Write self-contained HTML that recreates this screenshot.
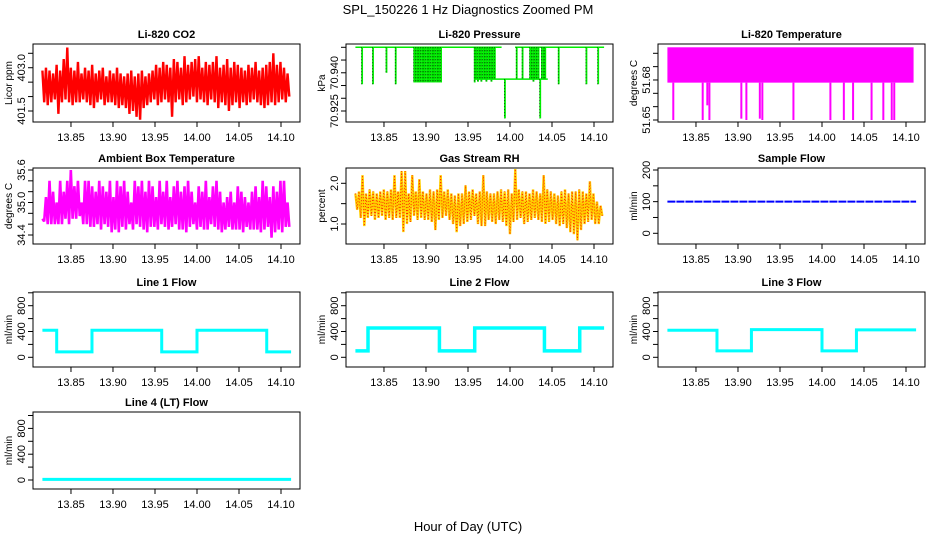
<!DOCTYPE html>
<html><head><meta charset="utf-8">
<style>
html,body{margin:0;padding:0;background:#fff;}
svg{display:block;font-family:"Liberation Sans",Arial,sans-serif;}
</style></head>
<body>
<svg id="chart" width="936" height="540" viewBox="0 0 936 540" xmlns="http://www.w3.org/2000/svg">
<text x="468" y="14" font-size="13" text-anchor="middle">SPL_150226  1 Hz Diagnostics Zoomed PM</text>
<text x="468" y="531" font-size="13" text-anchor="middle">Hour of Day (UTC)</text>
</svg>
<script>
// ---- data ----
const xTicks = [13.85, 13.90, 13.95, 14.00, 14.05, 14.10];
const binStart = 13.816;
const binEnd = 14.112;

const co2Hi = [402.9,403.0,402.9,402.8,403.1,402.9,403.3,403.7,403.0,402.9,403.2,402.8,403.0,402.9,403.1,402.8,402.9,403.0,402.7,402.9,402.8,403.0,402.8,402.7,402.8,402.9,402.7,402.8,402.9,402.7,402.8,402.9,403.1,403.0,403.2,403.1,403.0,403.3,403.2,403.0,403.4,403.1,403.2,403.3,403.4,403.0,403.2,403.1,403.2,403.4,403.0,403.1,403.3,403.0,403.2,403.1,403.0,402.9,403.1,403.0,403.2,402.9,403.0,403.1,403.2,403.5,403.1,403.2,403.0,402.8];
const co2Lo = [401.8,401.7,401.8,401.9,401.4,401.8,401.9,401.8,401.7,401.8,401.8,401.9,401.8,401.7,401.6,401.8,401.9,401.7,401.8,401.8,401.7,401.6,401.7,401.6,401.4,401.5,401.3,401.2,401.6,401.7,401.8,401.9,401.7,401.8,401.9,401.8,401.3,401.8,401.9,401.7,401.8,401.9,402.0,401.8,401.9,401.8,401.7,401.9,401.8,401.6,401.8,401.7,401.5,401.7,401.8,401.6,401.8,401.7,401.8,401.9,401.8,401.7,401.6,401.7,401.8,401.7,401.8,401.9,401.8,402.0];

const pressTop = 70.950;
const pressMid = 70.9375;
const pT  = [13.824,13.837,13.853,13.864,13.886,13.888,13.890,13.892,13.894,13.896,13.898,13.900,13.902,13.904,13.906,13.908,13.910,13.912,13.914,13.916,13.918,13.958,13.960,13.962,13.964,13.966,13.968,13.970,13.972,13.974,13.976,13.978,13.980,13.982,13.994,14.008,14.015,14.024,14.026,14.028,14.030,14.032,14.034,14.036,14.038,14.040,14.042,14.058,14.091,14.105];
const pHi = [70.950,70.950,70.950,70.950,70.950,70.950,70.950,70.950,70.950,70.950,70.950,70.950,70.950,70.950,70.950,70.950,70.950,70.950,70.950,70.950,70.950,70.950,70.950,70.950,70.950,70.950,70.950,70.950,70.950,70.950,70.950,70.950,70.950,70.950,70.9375,70.950,70.950,70.950,70.950,70.950,70.950,70.950,70.950,70.9375,70.950,70.950,70.950,70.950,70.950,70.950];
const pLo = [70.9355,70.9355,70.940,70.9355,70.9362,70.9362,70.9362,70.9362,70.9362,70.9362,70.9362,70.9362,70.9362,70.9362,70.9362,70.9362,70.9362,70.9362,70.9362,70.9362,70.9362,70.9362,70.9375,70.9365,70.9375,70.9365,70.9375,70.9375,70.9365,70.9375,70.9375,70.9365,70.9375,70.9375,70.9221,70.9375,70.9375,70.9375,70.9375,70.9365,70.9375,70.9375,70.9375,70.9221,70.9375,70.9375,70.9375,70.9355,70.9355,70.9355];

const tempHigh = 51.7045;
const tempBase = 51.678;
const tempDipT  = [13.823,13.858,13.8635,13.866,13.904,13.910,13.926,13.929,13.966,14.010,14.026,14.037,14.059,14.073,14.083,14.086];
const tempDipLo = [51.650,51.650,51.661,51.650,51.651,51.650,51.651,51.650,51.650,51.650,51.650,51.650,51.650,51.650,51.650,51.650];

const ambHi = [34.7,35.1,35.4,35.2,35.0,35.4,35.2,35.4,35.6,35.3,35.4,35.0,35.4,35.4,35.3,35.2,35.4,35.3,35.2,35.4,35.1,35.4,35.3,35.4,35.2,35.0,35.4,35.3,35.4,35.2,35.4,35.3,35.1,35.4,35.2,35.4,35.1,35.3,35.4,35.2,35.3,35.4,35.2,35.0,35.3,35.2,35.4,35.1,35.3,35.4,35.2,35.0,35.1,35.2,35.0,35.3,35.2,35.1,35.0,35.2,35.3,35.1,35.4,35.3,35.1,35.3,35.2,35.4,35.4,35.0];
const ambLo = [34.65,34.6,34.6,34.6,34.6,34.6,34.7,34.6,34.7,34.7,34.75,34.6,34.6,34.55,34.55,34.6,34.5,34.6,34.55,34.45,34.5,34.45,34.55,34.5,34.6,34.5,34.6,34.55,34.5,34.45,34.55,34.55,34.5,34.6,34.55,34.5,34.55,34.6,34.5,34.5,34.45,34.55,34.6,34.5,34.55,34.5,34.5,34.6,34.55,34.5,34.45,34.5,34.55,34.5,34.5,34.5,34.45,34.55,34.5,34.5,34.5,34.45,34.5,34.55,34.35,34.45,34.5,34.45,34.55,34.55];

const rhHi = [1.75,1.8,2.2,1.75,1.85,1.8,1.75,1.8,1.85,1.8,1.85,2.2,1.8,2.3,2.3,1.75,2.2,1.8,2.1,1.8,1.75,1.85,1.8,1.85,2.2,1.8,1.85,1.75,1.7,1.75,1.75,1.95,1.8,1.85,1.75,1.8,2.2,1.8,1.75,1.75,1.8,1.85,1.8,1.85,1.75,2.35,1.85,1.8,1.8,1.75,1.85,1.8,1.75,2.2,1.85,1.8,1.75,1.7,1.8,1.85,1.75,1.8,1.8,1.85,1.8,1.75,2.05,1.75,1.55,1.45];
const rhLo = [1.35,1.15,0.95,1.15,1.2,1.1,1.15,1.2,1.1,1.15,1.1,1.15,1.15,0.8,1.0,1.05,1.2,1.1,1.15,1.1,1.1,1.05,0.85,1.1,1.15,1.2,1.1,1.0,0.8,0.95,1.0,1.05,1.1,1.2,1.0,0.95,0.95,1.1,1.05,1.0,1.1,1.05,0.95,0.75,1.05,1.1,1.15,1.0,1.05,1.1,1.15,1.1,1.05,1.0,1.05,1.1,1.0,0.95,1.0,0.9,0.8,0.75,0.6,0.85,1.0,1.05,1.1,1.0,1.0,1.2];

const sampleFlowT = [13.816, 14.112];
const sampleFlowV = [100, 100];

const line1T = [13.816,13.833,13.875,13.958,14.000,14.083,14.112];
const line1V = [420,85,420,85,420,85];
const line2T = [13.816,13.831,13.916,13.958,14.041,14.083,14.112];
const line2V = [100,455,100,455,100,455];
const line3T = [13.816,13.875,13.916,14.000,14.041,14.112];
const line3V = [420,100,430,100,425];
const line4T = [13.816,14.112];
const line4V = [10];

// ---- layout ----
const svg = document.getElementById('chart');
const NS = 'http://www.w3.org/2000/svg';
const X0 = 13.8048, X1 = 14.1226;
const cols = [33, 346, 658];
const W = 267;
const rows = [[44,122],[168,244],[292,367],[412,489]];

function mk(tag, attrs, parent){
  const e = document.createElementNS(NS, tag);
  for (const k in attrs) e.setAttribute(k, attrs[k]);
  (parent||svg).appendChild(e);
  return e;
}

function panel(name, col, row, title, ylab, ticks, labels, v1, p1, v2, p2, fmt){
  const bx = cols[col], by0 = rows[row][0], by1 = rows[row][1];
  const g = mk('g', {});
  
  
  const sx = t => bx + (t - X0) / (X1 - X0) * W;
  const sy = v => p1 + (v - v1) * (p2 - p1) / (v2 - v1);
  const clipId = 'clip-' + name;
  const cp = mk('clipPath', {id: clipId}, g);
  mk('rect', {x: bx, y: by0, width: W, height: by1 - by0}, cp);
  const plot = mk('g', {'clip-path': 'url(#' + clipId + ')'}, g);
  
  
  const box = mk('rect', {x: bx, y: by0, width: W, height: by1 - by0, fill: 'none', stroke: '#000', 'stroke-width': 1}, g);
  
  
  const tt = mk('text', {x: bx + W/2, y: by0 - 6, 'font-size': 11, 'font-weight': 'bold', 'text-anchor': 'middle'}, g);
  tt.textContent = title;
  
  
  xTicks.forEach(t => {
    const x = sx(t);
    mk('line', {x1: x, x2: x, y1: by1, y2: by1 + 5, stroke: '#000'}, g);
    const lb = mk('text', {x: x, y: by1 + 19, 'font-size': 11, 'text-anchor': 'middle'}, g);
    lb.textContent = t.toFixed(2);
    
    
  });
  ticks.forEach(v => {
    const y = sy(v);
    mk('line', {x1: bx - 5, x2: bx, y1: y, y2: y, stroke: '#000'}, g);
  });
  labels.forEach(v => {
    const y = sy(v);
    const lb = mk('text', {x: 0, y: 0, 'font-size': 11, 'text-anchor': 'middle', transform: 'translate(' + (bx - 8) + ',' + y + ') rotate(-90)'}, g);
    lb.textContent = fmt(v);
    
    
  });
  const yl = mk('text', {x: 0, y: 0, 'font-size': 10, 'text-anchor': 'middle', transform: 'translate(' + (bx - 21) + ',' + ((by0 + by1)/2) + ') rotate(-90)'}, g);
  yl.textContent = ylab;
  
  
  return {sx, sy, plot};
}

function zigzag(p, hi, lo, color, w, name, dash){
  const dt = (binEnd - binStart) / hi.length;
  const pts = [];
  for (let i = 0; i < hi.length; i++){
    pts.push(p.sx(binStart + i*dt) + ',' + p.sy(hi[i]));
    pts.push(p.sx(binStart + (i+0.5)*dt) + ',' + p.sy(lo[i]));
  }
  const a = {points: pts.join(' '), fill: 'none', stroke: color, 'stroke-width': w, 'stroke-linejoin': 'bevel'};
  if (dash) a['stroke-dasharray'] = dash;
  const pl = mk('polyline', a, p.plot);
  
  
  return pl;
}

function steps(p, T, V, color, w, name){
  const pts = [];
  for (let i = 0; i < V.length; i++){
    pts.push(p.sx(T[i]) + ',' + p.sy(V[i]));
    pts.push(p.sx(T[i+1]) + ',' + p.sy(V[i]));
  }
  const pl = mk('polyline', {points: pts.join(' '), fill: 'none', stroke: color, 'stroke-width': w}, p.plot);
  
  
}

const f1 = v => v.toFixed(1), f3 = v => v.toFixed(3), f2 = v => v.toFixed(2), f0 = v => String(v);

// CO2
const pc = panel('co2', 0, 0, 'Li-820 CO2', 'Licor ppm', [401.5,402,402.5,403,403.5], [401.5,403.0], 401.5, 111, 403.5, 53.3, f1);
zigzag(pc, co2Hi, co2Lo, '#ff0000', 2.4, 'co2-series');

// Pressure
const pp = panel('pressure', 1, 0, 'Li-820 Pressure', 'kPa', [70.925,70.930,70.935,70.940,70.945,70.950], [70.925,70.940], 70.925, 111, 70.950, 47.3, f3);
[[13.816,13.990],[14.006,14.112]].forEach(seg => {
  const l = mk('line', {x1: pp.sx(seg[0]), x2: pp.sx(seg[1]), y1: pp.sy(pressTop), y2: pp.sy(pressTop), stroke: '#00ee00', 'stroke-width': 1.5}, pp.plot);
  
  
});
const ml = mk('line', {x1: pp.sx(13.958), x2: pp.sx(14.045), y1: pp.sy(pressMid), y2: pp.sy(pressMid), stroke: '#00ee00', 'stroke-width': 1.5}, pp.plot);


pT.forEach((t, i) => {
  const l = mk('line', {x1: pp.sx(t), x2: pp.sx(t), y1: pp.sy(pHi[i]), y2: pp.sy(pLo[i]), stroke: '#00ee00', 'stroke-width': 1.8}, pp.plot);
  
  
  mk('line', {x1: pp.sx(t)-0.5, x2: pp.sx(t)-0.5, y1: pp.sy(pHi[i]), y2: pp.sy(pLo[i]), stroke: '#000', 'stroke-width': 0.6, 'stroke-dasharray': '1,2'}, pp.plot);
});

// Li-820 temperature
const pt = panel('li820-temp', 2, 0, 'Li-820 Temperature', 'degrees C', [51.65,51.66,51.67,51.68,51.69,51.70], [51.65,51.68], 51.65, 120, 51.70, 53.3, f2);
const tb = mk('rect', {x: pt.sx(13.816), y: pt.sy(tempHigh), width: pt.sx(14.109) - pt.sx(13.816), height: pt.sy(tempBase) - pt.sy(tempHigh), fill: '#ff00ff'}, pt.plot);


tempDipT.forEach((t, i) => {
  const l = mk('line', {x1: pt.sx(t), x2: pt.sx(t), y1: pt.sy(tempBase), y2: pt.sy(tempDipLo[i]), stroke: '#ff00ff', 'stroke-width': 2}, pt.plot);
  
  
});

// Ambient box temperature
const pa = panel('ambient-temp', 0, 1, 'Ambient Box Temperature', 'degrees C', [34.4,34.6,34.8,35.0,35.2,35.4,35.6], [34.4,35.0,35.6], 34.4, 235, 35.6, 170, f1);
zigzag(pa, ambHi, ambLo, '#ff00ff', 2.6, 'ambient-temp-series');

// RH
const pr = panel('gas-rh', 1, 1, 'Gas Stream RH', 'percent', [1.0,1.5,2.0], [1.0,2.0], 1.0, 224, 2.0, 183.3, f1);
zigzag(pr, rhHi, rhLo, '#ffd000', 2.4, 'gas-rh-series');
zigzag(pr, rhHi, rhLo, '#ff2000', 0.9, 'gas-rh-dots', '1,2');

// Sample flow
const ps = panel('sample-flow', 2, 1, 'Sample Flow', 'ml/min', [0,50,100,150,200], [0,100,200], 0, 233.3, 200, 170, f0);
const sf = mk('line', {x1: ps.sx(sampleFlowT[0]), x2: ps.sx(sampleFlowT[1]), y1: ps.sy(sampleFlowV[0]), y2: ps.sy(sampleFlowV[1]), stroke: '#0000ff', 'stroke-width': 2, 'stroke-dasharray': '8,1'}, ps.plot);



// Line flows
const flowTicks = [0,200,400,600,800,1000], flowLabels = [0,400,800];
const p1 = panel('line1-flow', 0, 2, 'Line 1 Flow', 'ml/min', flowTicks, flowLabels, 0, 357.3, 800, 305.7, f0);
steps(p1, line1T, line1V, '#00ffff', 3, 'line1-flow-series');
const p2 = panel('line2-flow', 1, 2, 'Line 2 Flow', 'ml/min', flowTicks, flowLabels, 0, 357.3, 800, 305.7, f0);
steps(p2, line2T, line2V, '#00ffff', 3.5, 'line2-flow-series');
const p3 = panel('line3-flow', 2, 2, 'Line 3 Flow', 'ml/min', flowTicks, flowLabels, 0, 357.3, 800, 305.7, f0);
steps(p3, line3T, line3V, '#00ffff', 3, 'line3-flow-series');
const p4 = panel('line4-flow', 0, 3, 'Line 4 (LT) Flow', 'ml/min', flowTicks, flowLabels, 0, 480, 800, 428.4, f0);
steps(p4, line4T, line4V, '#00ffff', 3, 'line4-flow-series');
</script>
</body></html>
